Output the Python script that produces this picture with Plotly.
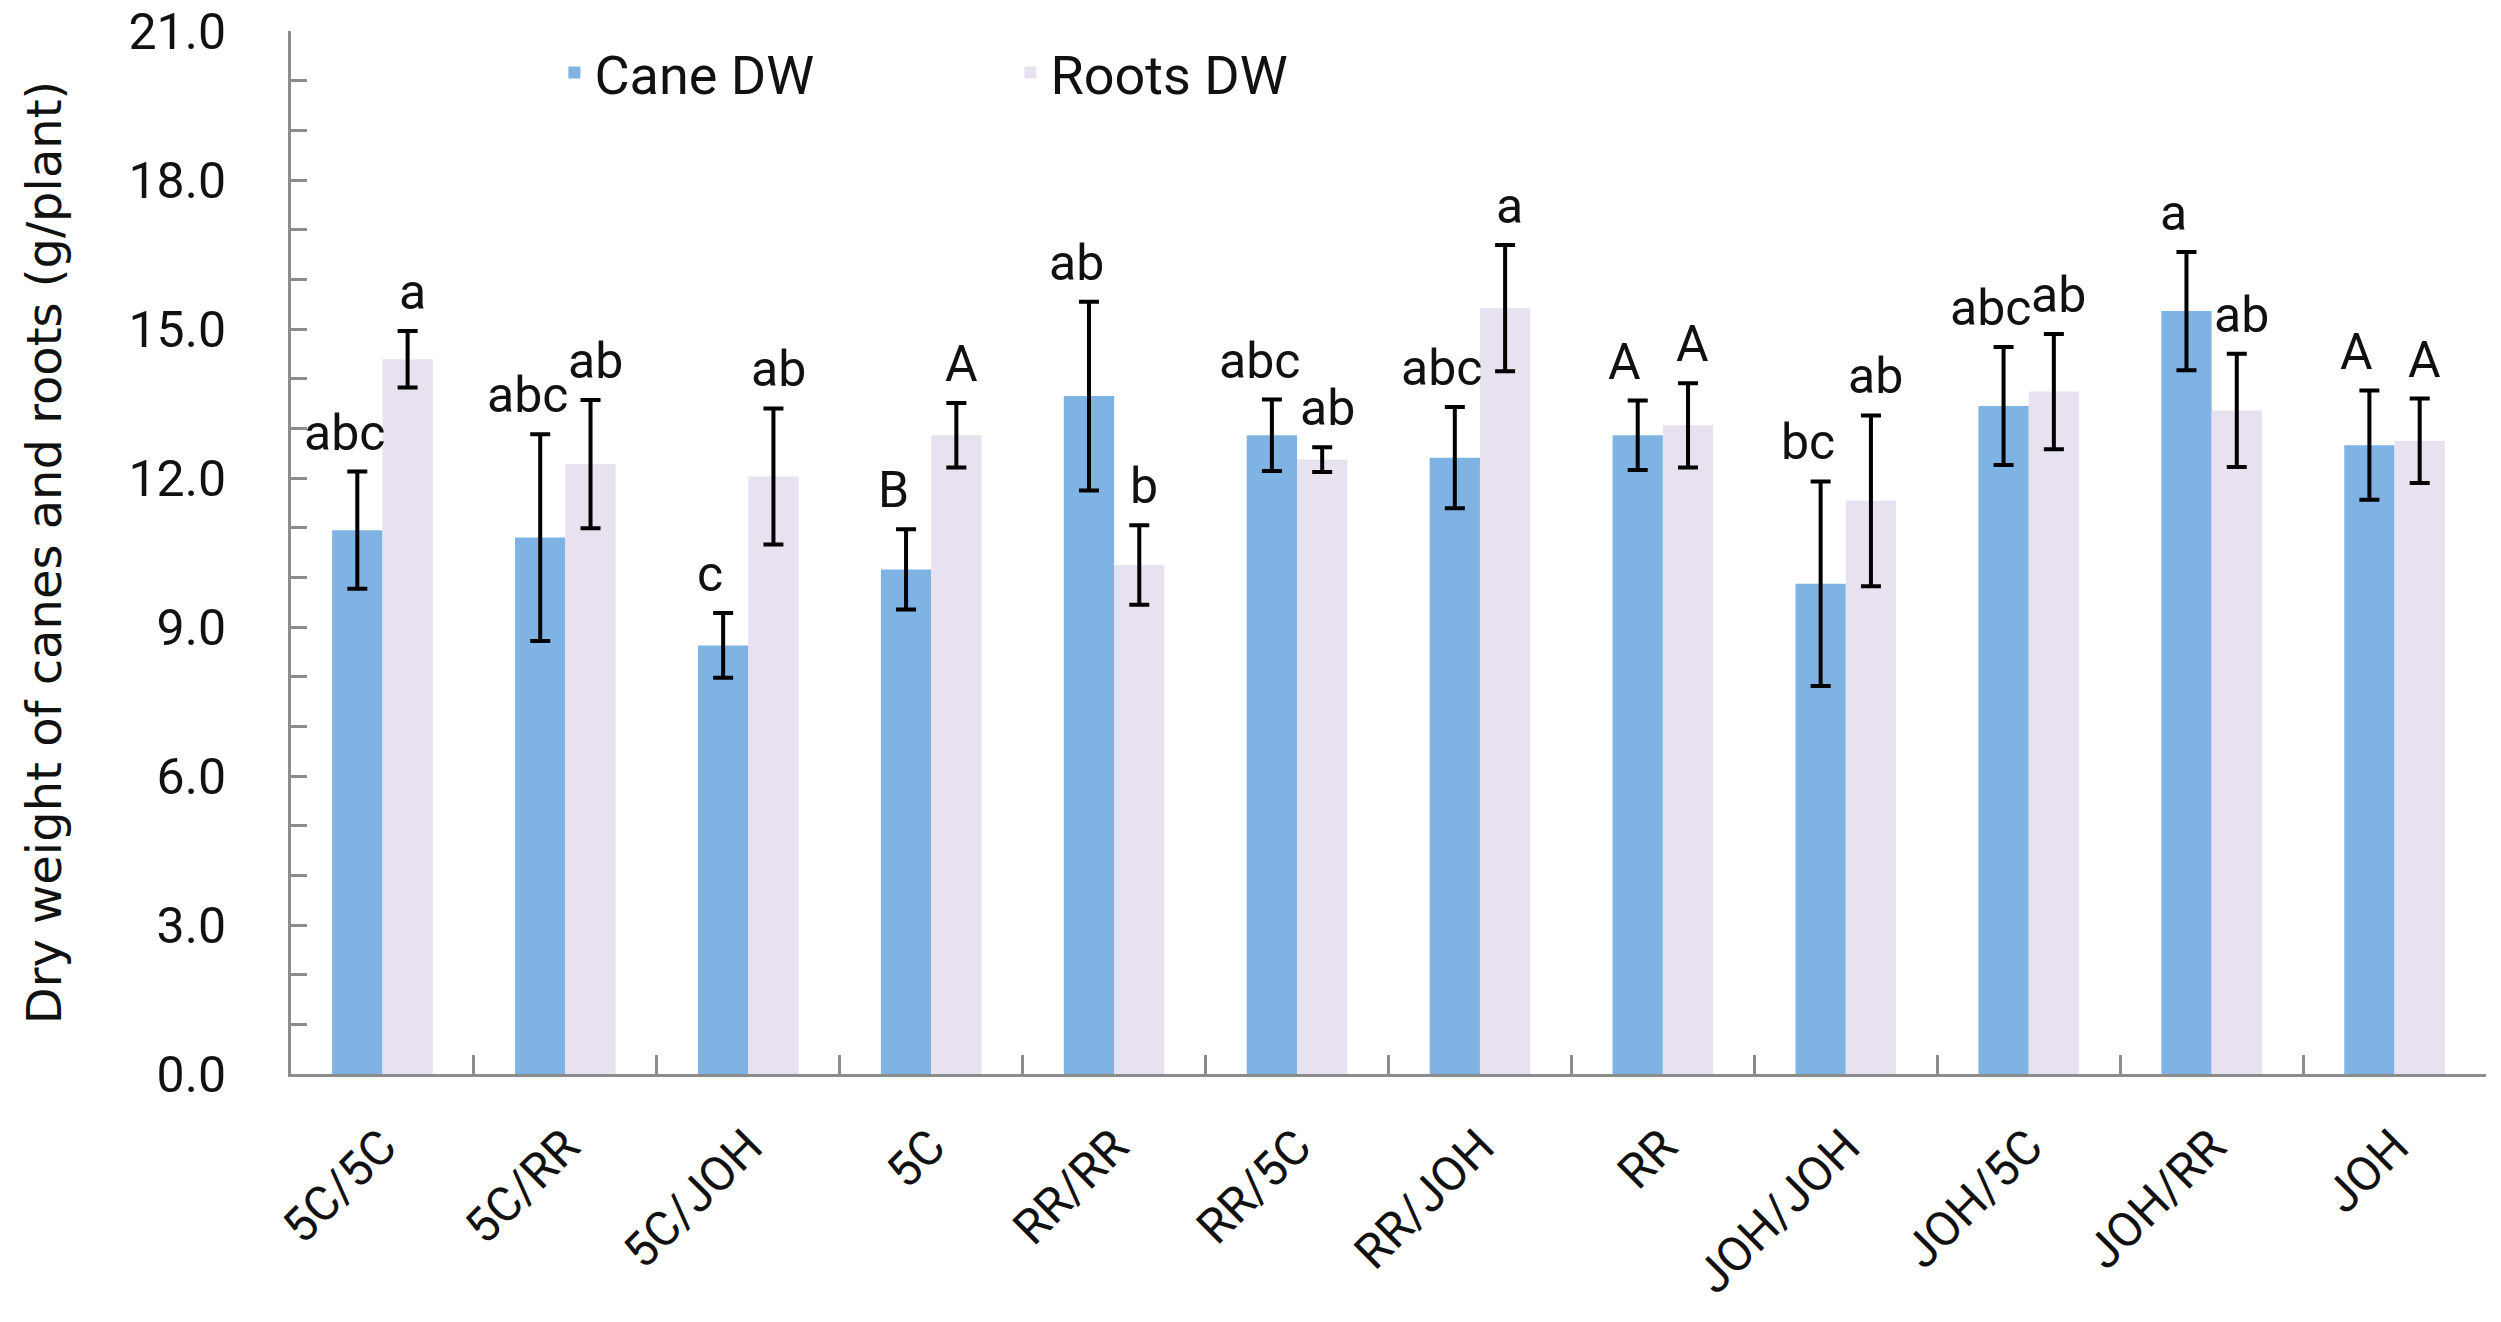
import plotly.graph_objects as go

categories = ["5C/5C", "5C/RR", "5C/JOH", "5C", "RR/RR", "RR/5C", "RR/JOH",
              "RR", "JOH/JOH", "JOH/5C", "JOH/RR", "JOH"]
cane_dw = [10.95, 10.80, 8.63, 10.16, 13.65, 12.86, 12.41, 12.86, 9.87, 13.45, 15.36, 12.66]
cane_err = [1.18, 2.08, 0.65, 0.81, 1.90, 0.72, 1.02, 0.70, 2.06, 1.19, 1.19, 1.10]
roots_dw = [14.39, 12.28, 12.03, 12.86, 10.25, 12.37, 15.42, 13.06, 11.54, 13.74, 13.36, 12.75]
roots_err = [0.57, 1.29, 1.37, 0.65, 0.80, 0.25, 1.27, 0.85, 1.72, 1.16, 1.14, 0.85]
cane_letters = ["abc", "abc", "c", "B", "ab", "abc", "abc", "A", "bc", "abc", "a", "A"]
roots_letters = ["a", "ab", "ab", "A", "b", "ab", "a", "A", "ab", "ab", "ab", "A"]
y_ticks = [0, 3, 6, 9, 12, 15, 18, 21]

CANE_COLOR = "#7EB3E3"
ROOTS_COLOR = "#E8E1EF"
TXT = "#111111"
AXIS = "#8C8C8C"
FONT = "Roboto, Open Sans, sans-serif"

fig = go.Figure()
fig.add_trace(go.Bar(
    name="Cane DW", x=categories, y=cane_dw, marker_color=CANE_COLOR, marker_line_width=0,
    error_y=dict(type="data", array=cane_err, visible=True, color="#000000", thickness=4, width=10),
))
fig.add_trace(go.Bar(
    name="Roots DW", x=categories, y=roots_dw, marker_color=ROOTS_COLOR, marker_line_width=0,
    error_y=dict(type="data", array=roots_err, visible=True, color="#000000", thickness=4, width=10),
))

annotations = []
for cat, v, e, lab in zip(categories, cane_dw, cane_err, cane_letters):
    annotations.append(dict(x=cat, y=v + e, text=lab, showarrow=False, xref="x", yref="y",
                            xanchor="center", yanchor="bottom", xshift=-38, yshift=8,
                            font=dict(family=FONT, size=50, color=TXT)))
for cat, v, e, lab in zip(categories, roots_dw, roots_err, roots_letters):
    annotations.append(dict(x=cat, y=v + e, text=lab, showarrow=False, xref="x", yref="y",
                            xanchor="center", yanchor="bottom", xshift=30, yshift=8,
                            font=dict(family=FONT, size=50, color=TXT)))

fig.update_layout(
    width=2501, height=1322,
    margin=dict(l=291, r=15, t=31, b=248),
    paper_bgcolor="white", plot_bgcolor="white",
    barmode="group", bargap=0.45, bargroupgap=0,
    showlegend=True,
    legend=dict(orientation="h", x=0.12, y=1.0, xanchor="left", yanchor="top",
                font=dict(family=FONT, size=54, color=TXT),
                entrywidth=411, entrywidthmode="pixels", bgcolor="rgba(0,0,0,0)"),
    annotations=annotations,
    xaxis=dict(
        type="category", showline=True, linecolor=AXIS, linewidth=3, automargin=False,
        ticks="inside", tickson="boundaries", ticklen=19, tickwidth=2.5, tickcolor=AXIS,
        tickangle=-45, tickfont=dict(family=FONT, size=48, color=TXT),
        ticklabelstandoff=22, showgrid=False, zeroline=False,
    ),
    yaxis=dict(
        range=[0, 21], showline=True, linecolor=AXIS, linewidth=3, automargin=False,
        tickvals=y_ticks, ticktext=[f"{t:.1f}" for t in y_ticks],
        ticks="inside", ticklen=16, tickwidth=2.5, tickcolor=AXIS,
        minor=dict(dtick=1, ticks="inside", ticklen=16, tickwidth=2.5, tickcolor=AXIS, showgrid=False),
        tickfont=dict(family=FONT, size=50, color=TXT), ticklabelstandoff=52,
        ticklabeloverflow="allow",
        showgrid=False, zeroline=False,
        title=dict(text="Dry weight of canes and roots (g/plant)",
                   font=dict(family="DejaVu Sans, sans-serif", size=48, color=TXT), standoff=52),
    ),
)

fig.write_html("out.html", config={"displayModeBar": False},
               post_script="document.body.style.margin='0';document.body.style.overflow='hidden';")
